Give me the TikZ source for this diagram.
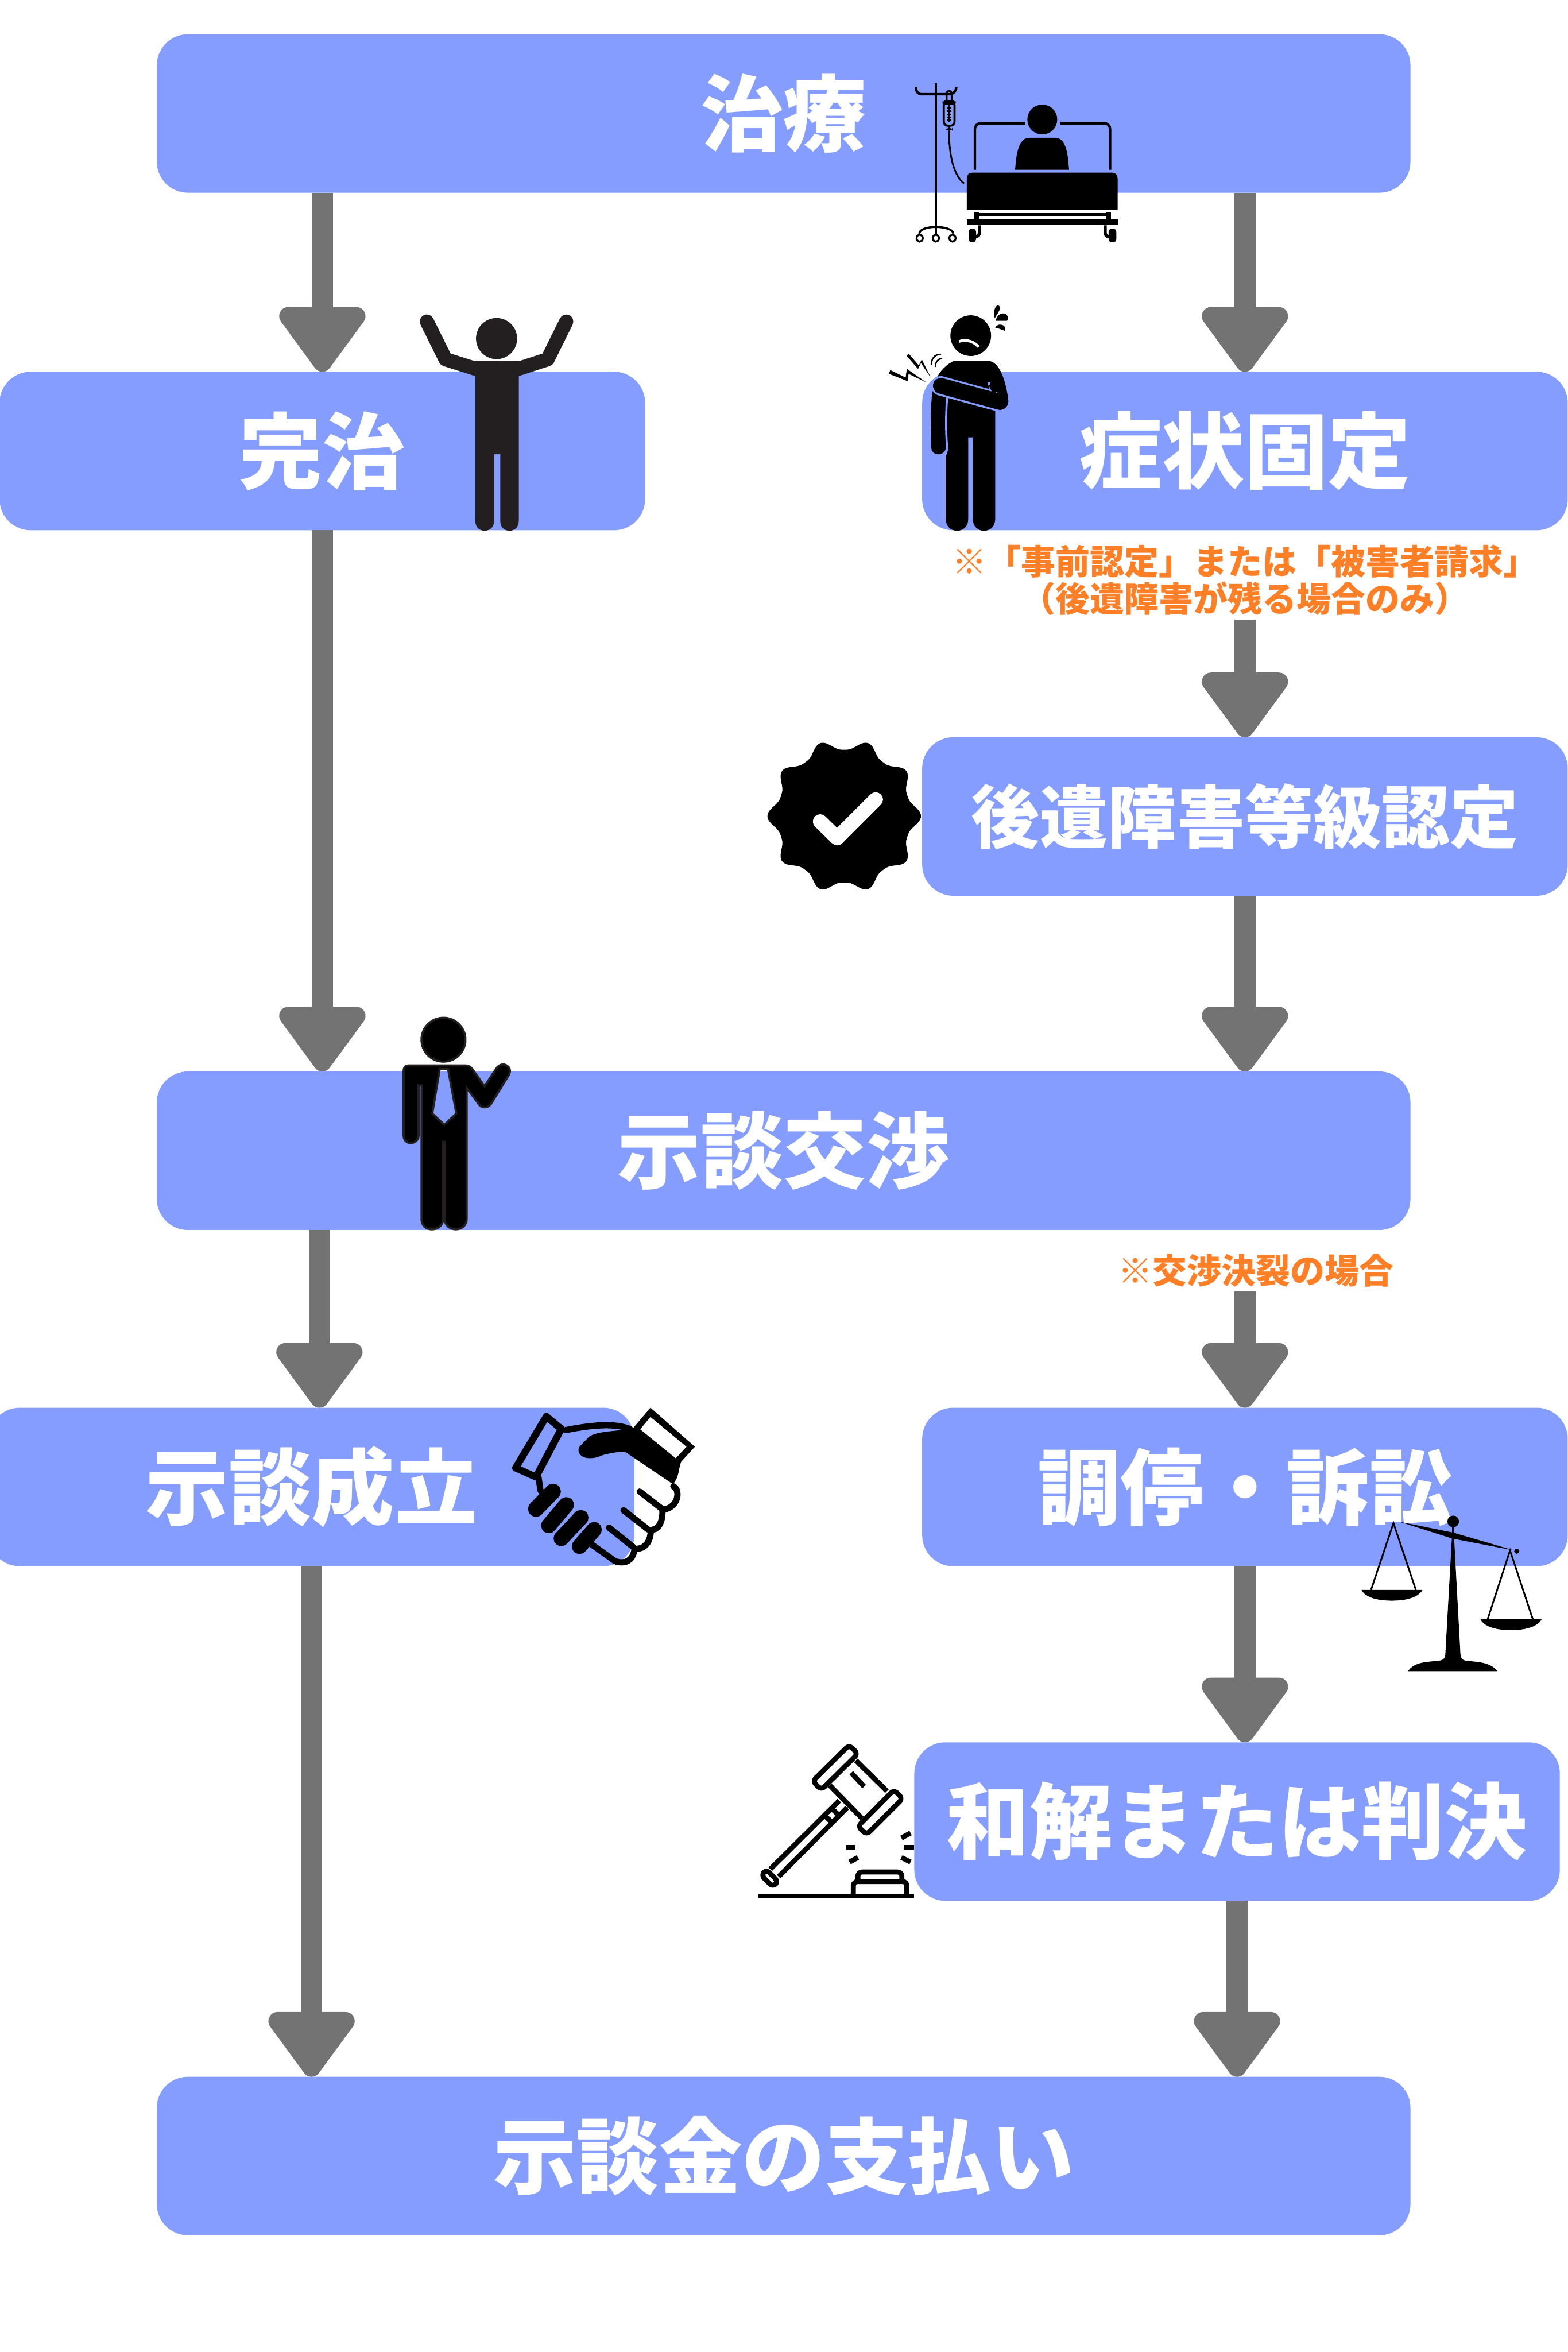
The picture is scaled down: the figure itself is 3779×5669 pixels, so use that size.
\documentclass[tikz,border=0pt]{standalone}
\usepackage{fontspec}
\usetikzlibrary{calc}
\newfontfamily\cjk{Noto Sans CJK JP}[BoldFont={* Black}]
\definecolor{boxblue}{HTML}{859DFF}
\definecolor{arrowgray}{HTML}{737373}
\definecolor{noteorange}{HTML}{FF7F27}
\definecolor{manline}{HTML}{231F20}
\tikzset{
  flowbox/.style={fill=boxblue,rounded corners=15pt,minimum height=76.4pt,inner sep=0pt,outer sep=0pt,text=white,align=center,
    font=\cjk\bfseries\fontsize{40}{48}\selectfont},
  longbox/.style={flowbox,minimum width=604.4pt},
  shortbox/.style={flowbox,minimum width=311.2pt},
  notetext/.style={text=noteorange,align=center,inner sep=0pt,outer sep=0pt,font=\cjk\bfseries\fontsize{16.6}{18.2}\selectfont},
  shaft/.style={draw=arrowgray,line width=10.4pt},
  arrowhead/.style={fill=arrowgray,draw=arrowgray,line width=8.8pt,line join=round},
  thin1/.style={line width=1.2pt,line cap=round,line join=round},
  gavelline/.style={line width=2.4pt,line join=round}
}
\newcommand\conn[2]{%
  \draw[shaft] (#1) -- ($(#2)+(0,-120)$);
  \draw[arrowhead] ($(#2)+(-82,-134)$) -- ($(#2)+(82,-134)$) -- ($(#2)+(0,-22)$) -- cycle;
}
\begin{document}
\begin{tikzpicture}[x=0.2pt,y=-0.2pt]
\useasboundingbox (0,0) rectangle (3779,5669);
% boxes
\node[longbox]  (chiryo)  at (1889,273.5) {治療};
\node[shortbox] (kanchi)  at (777,1087)   {完治};
\node[shortbox] (shojo)   at (3001,1087)  {症状固定};
\node[shortbox,font=\cjk\bfseries\fontsize{33}{40}\selectfont] (koui) at (3001,1968) {後遺障害等級認定};
\node[longbox]  (kosho)   at (1889,2773.5){示談交渉};
\node[shortbox] (seiritsu)at (751,3584)   {示談成立};
\node[shortbox] (chotei)  at (3001,3584)  {調停・訴訟};
\node[shortbox] (wakai)   at (2982,4390.5){和解または判決};
\node[longbox]  (shiharai)at (1889,5196.5){示談金の支払い};
% notes
\node[notetext,minimum height=38.4pt] (note1) at (3001,1398) {※「事前認定」または「被害者請求」\\（後遺障害が残る場合のみ）};
\node[notetext,minimum height=20pt] (note2) at (3027,3063) {※交渉決裂の場合};
\coordinate (t6) at (770,3393);
% connectors
\conn{chiryo.south -| kanchi.north}{kanchi.north}
\conn{chiryo.south -| shojo.north}{shojo.north}
\conn{kanchi.south}{kanchi.south |- kosho.north}
\conn{note1.south}{koui.north}
\conn{koui.south}{koui.south |- kosho.north}
\conn{kosho.south -| t6}{t6}
\conn{note2.south -| chotei.north}{chotei.north}
\conn{seiritsu.south}{seiritsu.south |- shiharai.north}
\conn{chotei.south}{chotei.south |- wakai.north}
\conn{wakai.south}{wakai.south |- shiharai.north}

% ---------- bed and drip
\begin{scope}[line width=1.2pt]
\draw (2256,200) -- (2256,567);
\draw (2208,210) .. controls (2208,220) and (2212,227) .. (2222,227) -- (2288,227) .. controls (2298,227) and (2305,220) .. (2305,210);
\draw[rounded corners=2pt,line width=1pt] (2275,244) rectangle (2301,303);
\fill[rounded corners=2pt] (2272,241) rectangle (2304,253);
\draw[line width=.9pt] (2288,253) -- (2288,294);
\foreach \yy in {260,268,276,284,290} \draw[line width=.7pt] (2282,\yy) -- (2294,\yy);
\draw[line width=.9pt] (2282,241) -- (2282,225) .. controls (2282,217) and (2294,217) .. (2294,225) -- (2294,241);
\fill[rounded corners=1.5pt] (2280,308) rectangle (2296,315);
\fill (2286,303) rectangle (2290,308);
\draw[line width=.8pt] (2288,315) .. controls (2287,383) and (2303,427) .. (2324,442);
\draw[line width=1pt] (2216,563) .. controls (2216,553) and (2235,547) .. (2256,547) .. controls (2277,547) and (2298,553) .. (2298,563);
\foreach \xx in {2217,2256,2296} \draw[line width=.9pt] (\xx,574) ellipse [x radius=7.5,y radius=8.5];
\fill (2512.5,288) ellipse [x radius=36,y radius=36];
\fill (2447,409) .. controls (2450,370) and (2455,332) .. (2482,332) -- (2543,332) .. controls (2570,332) and (2574,370) .. (2577,409) -- cycle;
\draw (2350,409) -- (2350,312) .. controls (2350,303) and (2356,297) .. (2365,297) -- (2471,297);
\draw (2555,297) -- (2661,297) .. controls (2670,297) and (2676,303) .. (2676,312) -- (2676,409);
\fill (2330.5,505) -- (2330.5,430) .. controls (2330.5,421) and (2336,416) .. (2345,416) -- (2680,416) .. controls (2689,416) and (2694,421) .. (2694,430) -- (2694,505) -- cycle;
\fill (2347.5,512) rectangle (2360,530);
\fill (2665,512) rectangle (2677.5,530);
\fill (2352,513) rectangle (2672,520);
\fill (2330.5,528) rectangle (2694,543);
\fill[rounded corners=1.5pt] (2335,551) rectangle (2353,584);
\fill[rounded corners=1.5pt] (2672.5,551) rectangle (2691,584);
\draw[line width=1.5pt] (2361,543) -- (2361,560) .. controls (2361,566) and (2358,570) .. (2352,570);
\draw[line width=1.5pt] (2664,543) -- (2664,560) .. controls (2664,566) and (2667,570) .. (2673,570);
\end{scope}

% ---------- cheering man
\begin{scope}[manline]
\fill[manline] (1197,816) ellipse [x radius=49.5,y radius=49.5];
\draw[manline,line width=6.8pt,line cap=round,line join=round] (1029,775) -- (1074,866) -- (1150,890);
\draw[manline,line width=6.8pt,line cap=round,line join=round] (1365,775) -- (1320,866) -- (1246,890);
\fill[manline] (1146,870) -- (1250.5,870) -- (1250.5,1256) .. controls (1250.5,1270) and (1241,1279) .. (1228,1279) .. controls (1215,1279) and (1206,1270) .. (1206,1256) -- (1206,1095) -- (1191,1095) -- (1191,1256) .. controls (1191,1270) and (1181,1279) .. (1168,1279) .. controls (1155,1279) and (1146,1270) .. (1146,1256) -- cycle;
\end{scope}

% ---------- man in pain
\fill (2340,809) ellipse [x radius=49,y radius=49];
\draw[white,line width=1.3pt] (2312,823) .. controls (2325,818) and (2345,820) .. (2359,836);
\fill (2398,767) .. controls (2394,752) and (2398,738) .. (2405,736) .. controls (2410,736) and (2412,742) .. (2409,748) -- cycle;
\fill (2400,773) .. controls (2404,758) and (2415,752) .. (2425,757) .. controls (2431,762) and (2431,772) .. (2427,773) -- cycle;
\fill (2399,790) .. controls (2402,782) and (2412,780) .. (2420,785) .. controls (2424,790) and (2424,796) .. (2422,797) .. controls (2414,795) and (2406,790) .. (2399,790) -- cycle;
% bolts
\fill (2186,858) -- (2190,852) -- (2215,881) -- (2222,866) -- (2243,909) -- (2220,875) -- (2213,889) -- cycle;
\fill (2146,892) -- (2183,910) -- (2186,889) -- (2232,921) -- (2190,901) -- (2189,919) -- (2143,901) -- cycle;
\draw[line width=.7pt,line cap=round] (2267,854) .. controls (2252,854) and (2245,866) .. (2245,879);
\draw[line width=.7pt,line cap=round] (2270,864) .. controls (2258,866) and (2255,875) .. (2255,883);
% body
\fill (2299,870) -- (2383,870) .. controls (2412,872) and (2426,925) .. (2431,968) -- (2411,988) -- (2399,985) -- (2399,1250) .. controls (2399,1268) and (2388,1279) .. (2372,1279) .. controls (2356,1279) and (2345,1268) .. (2345,1250) -- (2345,1054) -- (2334,1054) -- (2334,1250) .. controls (2334,1268) and (2323,1279) .. (2307,1279) .. controls (2291,1279) and (2280,1268) .. (2280,1250) -- (2280,1095) -- (2280,1078) .. controls (2280,1088) and (2273,1095) .. (2262,1095) .. controls (2251,1095) and (2245,1088) .. (2245,1078) .. controls (2243,1030) and (2243,985) .. (2247,950) .. controls (2250,925) and (2260,890) .. (2299,870) -- cycle;
\draw[boxblue,line width=1pt] (2283,958) .. controls (2280,1000) and (2280,1040) .. (2283,1078) .. controls (2283,1085) and (2281,1090) .. (2280,1095);
\draw[boxblue,line width=9.4pt,line cap=round] (2268,930) -- (2388,963);
\draw[boxblue,line width=1pt] (2383,921) -- (2391,948);
\draw[boxblue,line width=1pt] (2380,982) -- (2414,992);
\draw[line width=7.6pt,line cap=round] (2268,930) -- (2411,969);
\draw[line width=3pt] (2390,925) -- (2400,946);

% ---------- badge
\fill[shift={(2035,1967)}] plot[domain=0:360,samples=361] (\x:{160+25*abs(cos(5*\x))^3}) -- cycle;
\draw[white,line width=7pt,line cap=round,line join=round] (1977,1980) -- (2018,2020) -- (2111,1927);

% ---------- businessman
\filldraw[fill=black,draw=manline,line width=1pt] (1069,2506) ellipse [x radius=53,y radius=53];
\filldraw[fill=black,draw=manline,line width=1pt,even odd rule]
 (973,2582) .. controls (973,2572) and (977,2568) .. (985,2568) -- (1122,2568) .. controls (1130,2568) and (1135,2572) .. (1138,2576) -- (1168,2618) -- (1196,2576) .. controls (1203,2564) and (1218,2562) .. (1226,2572) .. controls (1231,2578) and (1230,2586) .. (1226,2592) -- (1184,2660) .. controls (1176,2672) and (1160,2672) .. (1153,2660) -- (1125,2622) -- (1125,2938) .. controls (1125,2953) and (1113,2963) .. (1099,2963) .. controls (1084,2963) and (1072,2953) .. (1072,2938) -- (1072,2752) -- (1068,2752) -- (1068,2938) .. controls (1068,2953) and (1056,2963) .. (1041,2963) .. controls (1026,2963) and (1016,2953) .. (1016,2938) -- (1016,2616) -- (1009,2616) -- (1009,2738) .. controls (1009,2748) and (1000,2755) .. (990,2755) .. controls (980,2755) and (973,2748) .. (973,2738) -- cycle
 (1060,2577) -- (1080,2577) -- (1100,2684) -- (1071,2711) -- (1042,2684) -- cycle;

% ---------- handshake
\begin{scope}[line width=3.4pt,line join=round,line cap=round]
\draw (1317,3414) -- (1353,3444) -- (1292,3560) -- (1243,3538) -- cycle;
\draw[line width=3pt] (1363,3447) .. controls (1420,3436) and (1480,3428) .. (1520,3445);
\draw[line width=3pt] (1298,3560) -- (1303,3593);
\fill[even odd rule] (1528,3440) -- (1568,3393) -- (1675,3487) -- (1642,3523) .. controls (1635,3540) and (1638,3560) .. (1622,3577) -- (1508,3500) .. controls (1490,3498) and (1470,3503) .. (1453,3507) .. controls (1435,3516) and (1417,3516) .. (1407,3512) .. controls (1393,3505) and (1392,3494) .. (1397,3487) -- (1420,3463) .. controls (1435,3452) and (1470,3450) .. (1487,3448) -- (1520,3445) -- cycle
 (1568,3415) -- (1655,3487) -- (1629,3515) -- (1543,3445) -- cycle;
\draw[line width=7.6pt] (1292,3637) -- (1333,3595);
\draw[line width=7.4pt] (1323,3677) -- (1365,3627);
\draw[line width=7.4pt] (1353,3708) -- (1400,3658);
\draw[line width=7.4pt] (1397,3727) -- (1432,3687);
\draw[line width=3pt] (1623,3582) .. controls (1640,3590) and (1637,3630) .. (1603,3638);
\draw[line width=3pt] (1597,3643) .. controls (1597,3665) and (1590,3685) .. (1573,3687);
\draw[line width=3pt] (1569,3690) .. controls (1568,3710) and (1560,3732) .. (1535,3733);
\draw[line width=3pt] (1530,3733) .. controls (1525,3765) and (1505,3770) .. (1483,3763) -- (1427,3723);
\draw[line width=3pt] (1542,3595) -- (1600,3640);
\draw[line width=3pt] (1503,3640) -- (1563,3687);
\draw[line width=3pt] (1468,3682) -- (1528,3730);
\end{scope}

% ---------- scales
\fill (3503,3667) ellipse [x radius=14,y radius=14];
\fill (3656,3739) ellipse [x radius=6,y radius=6];
\fill (3374,3668) -- (3503,3694) -- (3650,3737) -- (3500,3708) -- cycle;
\fill (3500,3680) rectangle (3504,3696);
\fill (3500,3705) -- (3505,3705) -- (3520.5,3988) .. controls (3521,4000) and (3530,4003) .. (3536,4003) .. controls (3560,4006) and (3591,4005) .. (3610,4028) -- (3394,4028) .. controls (3410,4005) and (3440,4006) .. (3466,4003) .. controls (3476,4002) and (3484,4000) .. (3484,3988) -- cycle;
\begin{scope}[line width=.8pt]
\draw (3305,3832) -- (3359,3671) -- (3413,3832);
\draw (3586,3903) -- (3640,3737) -- (3695,3903);
\end{scope}
\fill (3282,3832) -- (3429,3832) .. controls (3418,3852) and (3385,3858) .. (3355,3858) .. controls (3325,3858) and (3292,3852) .. (3282,3832) -- cycle;
\fill (3569,3903) -- (3716,3903) .. controls (3705,3923) and (3672,3929) .. (3642,3929) .. controls (3612,3929) and (3579,3923) .. (3569,3903) -- cycle;

% ---------- gavel
\begin{scope}[gavelline]
\draw (1827,4570) -- (2203,4570);
\draw[rounded corners=2pt] (2057,4570) -- (2057,4535) -- (2186,4535) -- (2186,4570);
\draw[rounded corners=2pt] (2068,4535) -- (2068,4512) -- (2174,4512) -- (2174,4535);
\draw (2039,4453) -- (2062,4453);
\draw (2048,4488) -- (2068,4477);
\draw (2180,4453) -- (2203,4453);
\draw (2173,4430) -- (2195,4418);
\draw (2173,4477) -- (2195,4488);
\draw[rounded corners=2pt] (2047,4206) -- (2068,4227) -- (1980,4314) -- (1959,4293) -- cycle;
\draw[rounded corners=2pt] (2155,4314) -- (2176,4335) -- (2089,4422) -- (2068,4402) -- cycle;
\draw (2063,4243) -- (2138,4317);
\draw (2000,4303) -- (2078,4383);
\draw (2052,4273) -- (2083,4306);
\draw (2023,4340) -- (1857,4505);
\draw (2042,4357) -- (1877,4523);
\draw (2007,4361) -- (2022,4375);
\draw (1991,4379) -- (2006,4393);
\draw[rounded corners=2pt] (1847,4506) -- (1876,4535) -- (1863,4548) -- (1835,4520) -- cycle;
\end{scope}
\end{tikzpicture}
\end{document}
